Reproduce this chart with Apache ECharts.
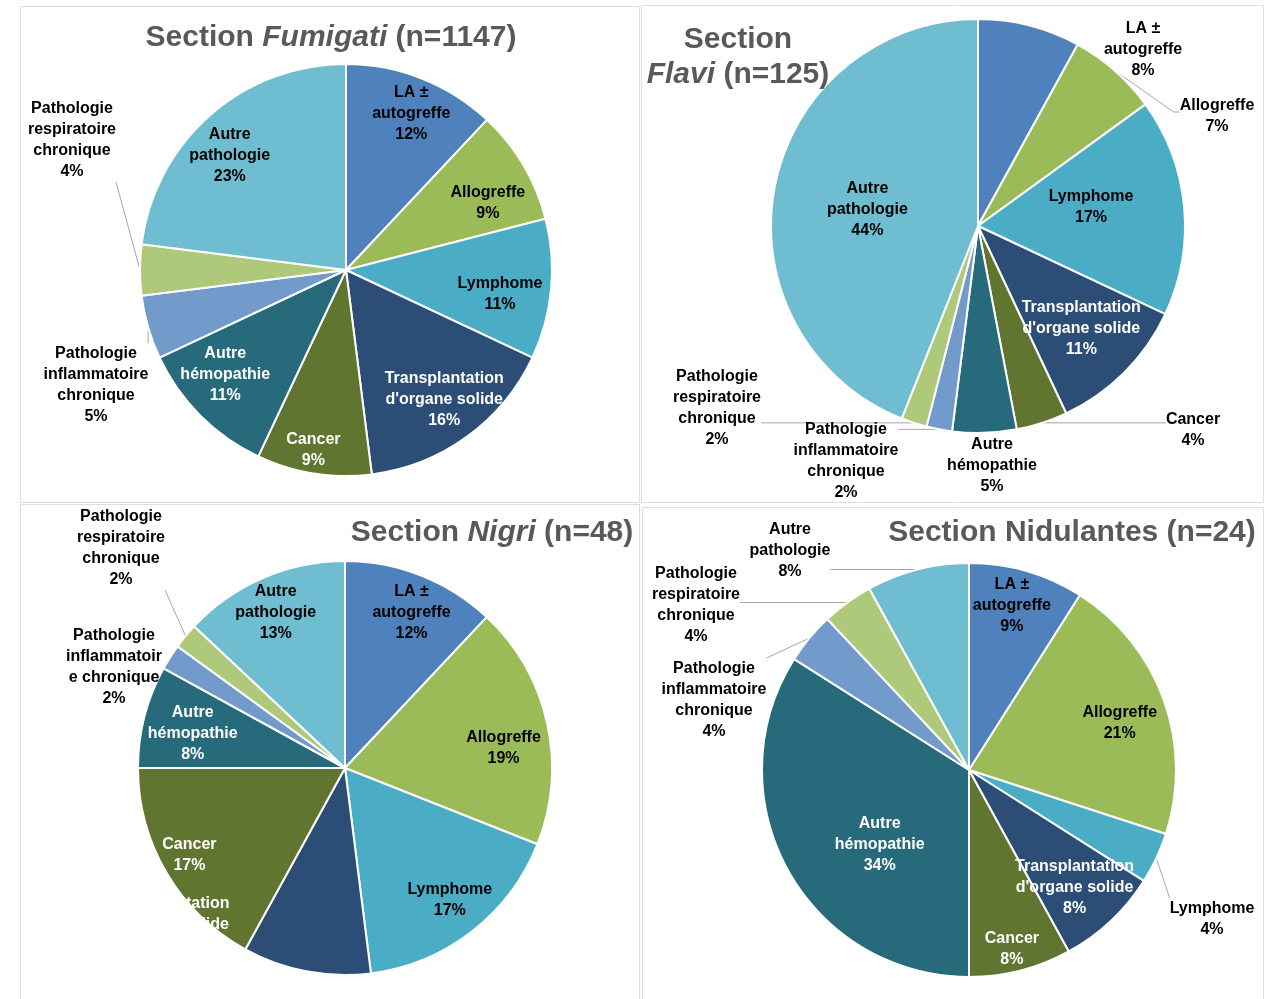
<!DOCTYPE html>
<html>
<head>
<meta charset="utf-8">
<script src="https://cdn.jsdelivr.net/npm/echarts@6/dist/echarts.min.js"></script>
<style>
  html, body { margin: 0; padding: 0; background: #fff; }
  #main { width: 1275px; height: 999px; }
</style>
</head>
<body>
<div id="main"></div>
<script>
// catégories, sens horaire à partir de midi
const categories = ['LA ±\nautogreffe', 'Allogreffe', 'Lymphome', "Transplantation\nd'organe solide", 'Cancer',
  'Autre\nhémopathie', 'Pathologie\ninflammatoire\nchronique', 'Pathologie\nrespiratoire\nchronique', 'Autre\npathologie']

// pourcentages par section
const fumigati = [12, 9, 11, 16, 9, 11, 5, 4, 23]
const flavi = [8, 7, 17, 11, 4, 5, 2, 2, 44]
const nigri = [12, 19, 17, 10, 17, 8, 2, 2, 13]
const nidulantes = [9, 21, 4, 8, 8, 34, 4, 4, 8]

const colors = ['#4F81BD', '#9BBB59', '#4BACC6', '#2C4D75', '#5F7530', '#276A7C', '#729ACA', '#AFC97A', '#6FBDD1']
const font = '"Liberation Sans", Arial, sans-serif'

// mode: 'ring' = étiquette vers le bord, 'in' = milieu du rayon, 'out' = à l'extérieur
// out: [dx, dy depuis le centre, trait: false | 'near' | 'side']
const panels = [
  {
    values: fumigati, center: [346, 270], r: 206, white: [3, 4, 5],
    mode: ['ring', 'ring', 'ring', 'ring', 'ring', 'ring', 'out', 'out', 'ring'],
    out: { 6: [-250, 115, 'near'], 7: [-274, -130, 'near'] },
    shift: { 0: [5, -4], 1: [1, 16], 2: [-9, 9], 3: [2, -3], 4: [-7, 18], 5: [-5, -11], 8: [-8, 8] }
  },
  {
    values: flavi, center: [978, 226], r: 207, white: [3],
    mode: ['out', 'out', 'in', 'ring', 'out', 'out', 'out', 'out', 'in'],
    out: { 0: [165, -176, false], 1: [239, -110, 'side'], 4: [215, 204, 'near'], 5: [14, 240, false], 6: [-132, 235, 'near'], 7: [-261, 182, 'near'] },
    shift: { 2: [7, -9], 3: [-13, -14], 8: [-6, 4] }
  },
  {
    values: nigri, center: [345, 768], r: 207, white: [3, 4, 5],
    mode: ['ring', 'ring', 'ring', 'out', 'ring', 'ring', 'out', 'out', 'ring'],
    out: { 3: [-175, 157, false], 6: [-231, -101, false], 7: [-224, -220, 'near'] },
    shift: { 0: [6, -2], 1: [-2, 16], 2: [4, 2], 4: [-14, 3], 5: [7, 6], 8: [-4, -4] },
    names: { 6: 'Pathologie\ninflammatoir\ne chronique' }
  },
  {
    values: nidulantes, center: [969, 770], r: 207, white: [3, 4, 5],
    mode: ['ring', 'ring', 'out', 'ring', 'ring', 'in', 'out', 'out', 'out'],
    out: { 2: [243, 149, 'near'], 6: [-255, -70, 'near'], 7: [-273, -165, 'near'], 8: [-179, -219, 'near'] },
    shift: { 0: [-3, -6], 1: [-4, 9], 3: [-7, -2], 4: [2, 20], 5: [4, 23] }
  }
]

const labelFont = {
  fontFamily: font,
  fontWeight: 'bold',
  fontSize: 16,
  lineHeight: 21,
  textBorderWidth: 0,
  textBorderColor: 'transparent'
}

function makeSeries(p) {
  const cx = p.center[0]
  const cy = p.center[1]
  const names = p.names || {}
  const fmt = params => (names[params.dataIndex] || params.name) + '\n' + params.value + '%'
  const txtColor = i => (p.white.indexOf(i) >= 0 ? '#fff' : '#000')

  // camembert + étiquettes extérieures / centrales
  const main = {
    type: 'pie',
    center: p.center,
    radius: p.r,
    silent: true,
    avoidLabelOverlap: false,
    itemStyle: { borderColor: '#fff', borderWidth: 2 },
    label: Object.assign({ show: true, position: 'outside', formatter: fmt }, labelFont),
    labelLine: { show: true, length: 6, length2: 6, lineStyle: { color: '#a6a6a6', width: 1 } },
    data: p.values.map((v, i) => ({
      value: v,
      name: categories[i],
      itemStyle: { color: colors[i] },
      label: {
        show: p.mode[i] !== 'ring',
        position: p.mode[i] === 'in' ? 'inside' : 'outside',
        color: txtColor(i)
      },
      labelLine: { show: p.mode[i] === 'out' && !!(p.out[i] && p.out[i][2]) }
    })),
    labelLayout: function (params) {
      const o = p.out[params.dataIndex]
      if (o) {
        const x = cx + o[0]
        const y = cy + o[1]
        const w = params.labelRect.width
        const h = params.labelRect.height
        const res = { x: x, y: y, align: 'center', verticalAlign: 'middle' }
        if (o[2] && params.labelLinePoints) {
          const s = params.labelLinePoints[0]
          if (o[2] === 'side') {
            const left = s[0] < x
            const ex = left ? x - w / 2 : x + w / 2
            const mx = left ? ex - 6 : ex + 6
            res.labelLinePoints = [s, [mx, y - 4], [ex, y - 4]]
          } else {
            const ex = Math.min(Math.max(s[0], x - w / 2), x + w / 2)
            const ey = Math.min(Math.max(s[1], y - h / 2), y + h / 2)
            res.labelLinePoints = [s, [ex, ey], [ex, ey]]
          }
        }
        return res
      }
      const d = p.shift[params.dataIndex]
      if (d) return { dx: d[0], dy: d[1] }
    }
  }

  // anneau transparent, pour placer les étiquettes près du bord
  const ring = {
    type: 'pie',
    center: p.center,
    radius: [p.r * 0.56, p.r],
    silent: true,
    avoidLabelOverlap: false,
    itemStyle: { color: 'rgba(0,0,0,0)', borderWidth: 0 },
    label: Object.assign({ show: true, position: 'inside', formatter: fmt }, labelFont),
    labelLine: { show: false },
    data: p.values.map((v, i) => ({
      value: v,
      name: categories[i],
      label: { show: p.mode[i] === 'ring', color: txtColor(i) }
    })),
    labelLayout: function (params) {
      const d = p.shift[params.dataIndex]
      if (d) return { dx: d[0], dy: d[1] }
    }
  }
  return [main, ring]
}

const titleRich = {
  n: { fontFamily: font, fontSize: 30, fontWeight: 'bold', color: '#595959', lineHeight: 35 },
  i: { fontFamily: font, fontSize: 30, fontWeight: 'bold', fontStyle: 'italic', color: '#595959', lineHeight: 35 }
}
const titles = [
  { text: '{n|Section }{i|Fumigati}{n| (n=1147)}', left: 331, top: 38 },
  { text: '{n|Section}\n{i|Flavi}{n| (n=125)}', left: 738, top: 57 },
  { text: '{n|Section }{i|Nigri}{n| (n=48)}', left: 492, top: 533 },
  { text: '{n|Section Nidulantes (n=24)}', left: 1072, top: 533 }
]

const boxes = [
  [20.5, 6.5, 619, 496],
  [641.5, 5.5, 622, 497],
  [20.5, 504.5, 619, 500],
  [642.5, 507.5, 621, 495]
]

let series = []
panels.forEach(p => { series = series.concat(makeSeries(p)) })

const chart = echarts.init(document.getElementById('main'))
const option = {
  animation: false,
  backgroundColor: '#fff',
  title: titles.map(t => ({
    text: t.text,
    left: t.left,
    top: t.top,
    padding: 0,
    textAlign: 'center',
    textBaseline: 'middle',
    textStyle: { rich: titleRich }
  })),
  graphic: boxes.map(b => ({
    type: 'rect',
    silent: true,
    z: -1,
    shape: { x: b[0], y: b[1], width: b[2], height: b[3] },
    style: { fill: 'none', stroke: '#dedede', lineWidth: 1 }
  })),
  series: series
}
chart.setOption(option)
</script>
</body>
</html>
